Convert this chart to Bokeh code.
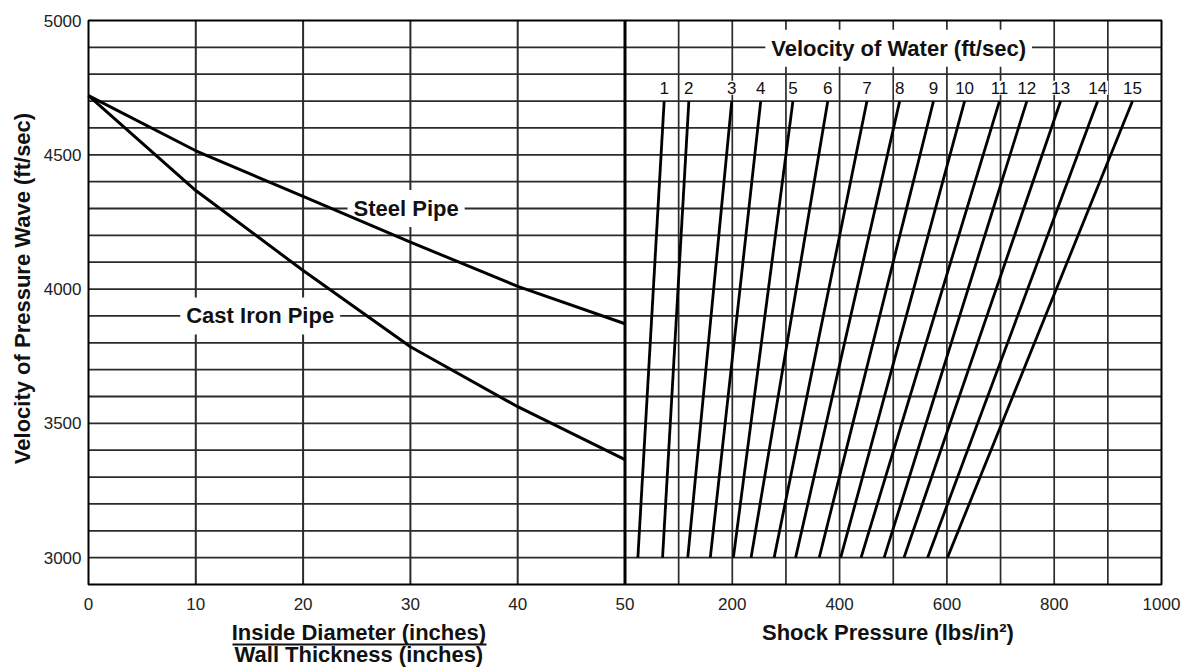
from bokeh.plotting import figure
from bokeh.models import Range1d, Label, ColumnDataSource
from bokeh.core.properties import value
from bokeh.embed import file_html
from bokeh.resources import INLINE

# ---------------- data ----------------
# Left panel: ratio (inside diameter / wall thickness) vs velocity of pressure wave
ratio = [0, 10, 20, 30, 40, 50]
steel_wave = [4720, 4515, 4345, 4175, 4010, 3871]
cast_iron_wave = [4720, 4367, 4069, 3785, 3562, 3365]

# Right panel: velocity of water lines (shock pressure read at wave velocity 3000 and 4700)
water_velocity = [1, 2, 3, 4, 5, 6, 7, 8, 9, 10, 11, 12, 13, 14, 15]
pressure_at_low = [24, 70, 117, 159, 202, 235, 278, 318, 362, 402, 440, 483, 520, 564, 601]
pressure_at_high = [73, 119, 199, 253, 313, 378, 451, 512, 575, 633, 698, 749, 812, 881, 946]
wave_low = 3000
wave_high = 4700

# ticks and grid
ratio_ticks = [0, 10, 20, 30, 40, 50]
ratio_grid = [10, 20, 30, 40]
pressure_ticks = [200, 400, 600, 800, 1000]
pressure_grid = [100, 200, 300, 400, 500, 600, 700, 800, 900]
wave_ticks = [3000, 3500, 4000, 4500, 5000]
wave_grid = list(range(3000, 5000, 100))

RATIO_MAX = 50
PRESS_MAX = 1000
Y_MIN, Y_MAX = 2900, 5000
X_MAX = 2 * RATIO_MAX          # combined axis: left panel 0..50, pressure panel 50..100

FONT = "Liberation Sans"

# ---------------- layout (canvas pixels) ----------------
CANVAS_W, CANVAS_H = 1184, 668
PLOT_L, PLOT_R = 88, 1161
PLOT_T, PLOT_B = 20, 584
sx = (PLOT_R - PLOT_L) / X_MAX
sy = (PLOT_B - PLOT_T) / (Y_MAX - Y_MIN)
x_start = -PLOT_L / sx
x_end = X_MAX + (CANVAS_W - PLOT_R) / sx
y_end = Y_MAX + PLOT_T / sy
y_start = Y_MIN - (CANVAS_H - PLOT_B) / sy
p_per_x = PRESS_MAX / (X_MAX - RATIO_MAX)


def X(px):
    return (px - PLOT_L) / sx


def Y(py):
    return Y_MAX - (py - PLOT_T) / sy


p = figure(width=CANVAS_W, height=CANVAS_H,
           x_range=Range1d(x_start, x_end), y_range=Range1d(y_start, y_end),
           x_axis_type=None, y_axis_type=None,
           output_backend="svg", toolbar_location=None, min_border=0)
p.extra_x_ranges = {"press": Range1d((x_start - RATIO_MAX) * p_per_x, (x_end - RATIO_MAX) * p_per_x)}
p.outline_line_color = None
p.background_fill_color = "white"
p.border_fill_color = "white"

GRID_COLOR = "#2b2b2b"

# ---------------- grid ----------------
n = len(wave_grid)
p.segment(x0=[0] * n, x1=[X_MAX] * n, y0=wave_grid, y1=wave_grid,
          line_color=GRID_COLOR, line_width=1.8)
m = len(ratio_grid)
p.segment(x0=ratio_grid, x1=ratio_grid, y0=[Y_MIN] * m, y1=[Y_MAX] * m,
          line_color=GRID_COLOR, line_width=2)
k = len(pressure_grid)
p.segment(x0=pressure_grid, x1=pressure_grid, y0=[Y_MIN] * k, y1=[Y_MAX] * k,
          x_range_name="press", line_color=GRID_COLOR, line_width=1.7)

# frame and divider
p.quad(left=[0], right=[X_MAX], bottom=[Y_MIN], top=[Y_MAX],
       fill_alpha=0, line_color="black", line_width=2)
p.segment(x0=[RATIO_MAX], x1=[RATIO_MAX], y0=[Y_MIN], y1=[Y_MAX],
          line_color="black", line_width=3)

# ---------------- data marks ----------------
p.line(ratio, steel_wave, line_color="black", line_width=3, level="overlay")
p.line(ratio, cast_iron_wave, line_color="black", line_width=3, level="overlay")

src = ColumnDataSource(dict(
    x0=pressure_at_low, x1=pressure_at_high,
    y0=[wave_low] * len(water_velocity), y1=[wave_high] * len(water_velocity)))
p.segment(x0="x0", y0="y0", x1="x1", y1="y1", source=src, x_range_name="press",
          line_color="black", line_width=2.8)

# ---------------- tick labels ----------------
TICK_COLOR = "#222222"
p.text(x=[X(81)] * len(wave_ticks), y=wave_ticks, text=[str(t) for t in wave_ticks],
       text_font=value(FONT), text_font_size=value("17px"), text_color=TICK_COLOR,
       text_align="right", text_baseline="middle")
p.text(x=ratio_ticks, y=[Y(603)] * len(ratio_ticks), text=[str(t) for t in ratio_ticks],
       text_font=value(FONT), text_font_size=value("17px"), text_color=TICK_COLOR,
       text_align="center", text_baseline="middle")
p.text(x=pressure_ticks, y=[Y(603)] * len(pressure_ticks), text=[str(t) for t in pressure_ticks],
       x_range_name="press",
       text_font=value(FONT), text_font_size=value("17px"), text_color=TICK_COLOR,
       text_align="center", text_baseline="middle")

# velocity numbers
for v, xp in zip(water_velocity, pressure_at_high):
    p.add_layout(Label(x=xp, y=(wave_high + 4800) / 2, x_range_name="press", text=str(v),
                       text_align="center", text_baseline="middle",
                       text_font=FONT, text_font_size="17px", text_color="#111111",
                       background_fill_color="white", padding=1))


def bold_label(x, y, text, range_name="default", pad=None, angle=0):
    kw = dict(x=x, y=y, x_range_name=range_name, text=text,
              text_align="center", text_baseline="middle",
              text_font=FONT, text_font_size="22px", text_font_style="bold",
              text_color="#111111", angle=angle, angle_units="deg")
    if pad is not None:
        kw.update(background_fill_color="white", padding=pad)
    return Label(**kw)


# in-chart titles (white boxes break the grid)
p.add_layout(bold_label(510, 4897, "Velocity of Water (ft/sec)", "press", pad=6))
p.add_layout(bold_label(29.6, 4300, "Steel Pipe", pad=6))
p.add_layout(bold_label(16.0, 3900, "Cast Iron Pipe", pad=6))

# axis titles
p.add_layout(bold_label(X(22), Y(288), "Velocity of Pressure Wave (ft/sec)", angle=90))
p.add_layout(bold_label(25.2, Y(632), "Inside Diameter (inches)"))
p.add_layout(bold_label(25.2, Y(654), "Wall Thickness (inches)"))
p.segment(x0=[X(232)], x1=[X(486)], y0=[Y(644)], y1=[Y(644)],
          line_color="#111111", line_width=2)
p.add_layout(bold_label(490, Y(632), "Shock Pressure (lbs/in\u00b2)", "press"))

open("out.html", "w").write(file_html(p, INLINE))
